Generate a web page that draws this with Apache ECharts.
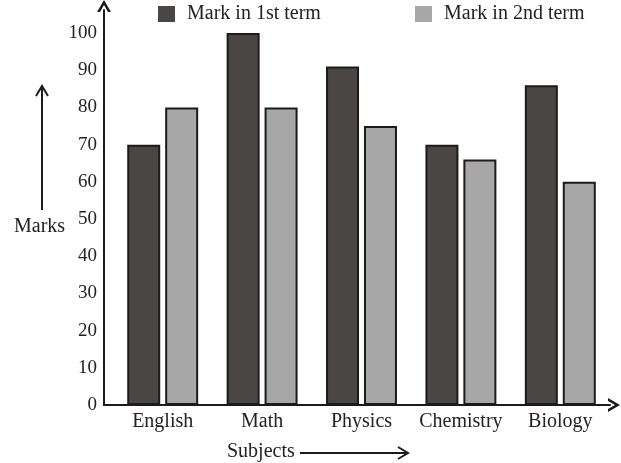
<!DOCTYPE html>
<html>
<head>
<meta charset="utf-8">
<script src="https://cdn.jsdelivr.net/npm/echarts@6/dist/echarts.min.js"></script>
<style>html,body{margin:0;padding:0;background:#fff;}#c{width:621px;height:463px;}</style>
</head>
<body>
<div id="c"></div>
<script>
const categories = ['English', 'Math', 'Physics', 'Chemistry', 'Biology'];
const term1 = [70, 100, 91, 70, 86];
const term2 = [80, 80, 75, 66, 60];
const yTicks = [0, 10, 20, 30, 40, 50, 60, 70, 80, 90, 100];
const seriesNames = ['Mark in 1st term', 'Mark in 2nd term'];

const FONT = 'Liberation Serif';
const INK = '#1e1a1a';
const chevron = 'path://M0,12 L7,0 L14,12 L11,12 L7,5 L3,12 Z';

function legendAt(left, name) {
  return {
    top: 4,
    left: left,
    padding: 0,
    itemWidth: 17,
    itemHeight: 16,
    icon: 'rect',
    itemStyle: {borderWidth: 0},
    textStyle: {fontFamily: FONT, fontSize: 20, color: '#222', padding: [0, 0, 0, 7]},
    data: [name]
  };
}

const chart = echarts.init(document.getElementById('c'), null, {renderer: 'canvas'});
chart.setOption({
  animation: false,
  backgroundColor: '#fff',
  textStyle: {fontFamily: FONT},
  legend: [legendAt(158, seriesNames[0]), legendAt(415, seriesNames[1])],
  grid: {left: 113, right: 11, top: 10, bottom: 58},
  xAxis: {
    type: 'category',
    data: categories,
    axisTick: {show: false},
    axisLine: {show: true, symbol: ['none', chevron], symbolSize: [15, 12], symbolOffset: [0, 4], lineStyle: {color: INK, width: 2}},
    axisLabel: {interval: 0, fontFamily: FONT, fontSize: 20, color: '#222', margin: 7}
  },
  yAxis: {
    type: 'value',
    min: 0,
    max: 106.2,
    interval: 10,
    offset: 9,
    splitLine: {show: false},
    axisTick: {show: false},
    axisLine: {show: true, symbol: ['none', chevron], symbolSize: [15, 12], symbolOffset: [0, 4], lineStyle: {color: INK, width: 2}},
    axisLabel: {
      fontFamily: FONT, fontSize: 19, color: '#222', margin: 7,
      formatter: function (v) { return yTicks.indexOf(v) >= 0 ? String(v) : ''; }
    }
  },
  series: [
    {
      name: seriesNames[0], type: 'bar', data: term1,
      barWidth: 33, barGap: '15%',
      itemStyle: {color: '#4a4646', borderColor: INK, borderWidth: 2}
    },
    {
      name: seriesNames[1], type: 'bar', data: term2,
      barWidth: 33,
      itemStyle: {color: '#a7a7a7', borderColor: INK, borderWidth: 2}
    }
  ],
  graphic: [
    {type: 'line', shape: {x1: 103, y1: 405, x2: 114, y2: 405}, style: {stroke: INK, lineWidth: 2}},
    {type: 'text', left: 14, top: 217, style: {text: 'Marks', font: '20px "Liberation Serif"', fill: '#222'}},
    {type: 'line', shape: {x1: 42, y1: 210, x2: 42, y2: 88}, style: {stroke: INK, lineWidth: 2}},
    {type: 'polyline', shape: {points: [[36, 96], [42, 86], [48, 96]]}, style: {stroke: INK, lineWidth: 2, fill: null}},
    {type: 'text', left: 227, top: 442, style: {text: 'Subjects', font: '20px "Liberation Serif"', fill: '#222'}},
    {type: 'line', shape: {x1: 300, y1: 453, x2: 406, y2: 453}, style: {stroke: INK, lineWidth: 2}},
    {type: 'polyline', shape: {points: [[398, 447], [408, 453], [398, 459]]}, style: {stroke: INK, lineWidth: 2, fill: null}}
  ]
});
</script>
</body>
</html>
